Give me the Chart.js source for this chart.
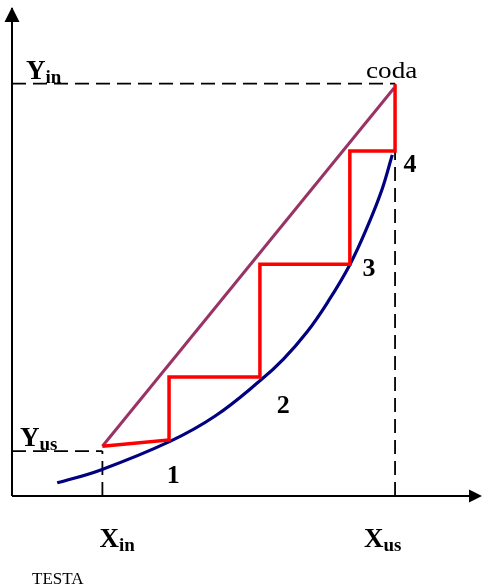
<!DOCTYPE html>
<html lang="it">

<head>
    <meta charset="UTF-8">
    <title>Stadi di equilibrio</title>
    <script src="https://cdn.jsdelivr.net/npm/chart.js"></script>
    <style>
        html, body {
            margin: 0;
            padding: 0;
            background: #ffffff;
        }

        #stagesChart {
            display: block;
        }
    </style>
</head>

<body>
    <canvas id="stagesChart" width="482" height="587"></canvas>

    <script>
        // Feed / product compositions on the two axes
        const feedX = [19.4, 82.2];      // X_in, X_us
        const feedY = [9.2, 84.5];       // Y_us, Y_in

        // Equilibrium curve
        const curveX = [9.7, 18.9, 33.9, 43.6, 53.2, 58.2, 63.3, 67.8, 72.5, 76.4, 79.4, 81.6];
        const curveY = [2.7, 5.3, 11.2, 16.4, 23.6, 28.0, 33.6, 39.8, 47.4, 55.5, 62.8, 69.9];

        // Operating line (testa -> coda)
        const operX = [19.4, 82.0];
        const operY = [10.2, 83.6];

        // Stage staircase
        const stepX = [19.4, 33.7, 33.7, 53.2, 53.2, 72.5, 72.5, 82.2, 82.2];
        const stepY = [10.2, 11.5, 24.4, 24.4, 47.5, 47.5, 70.7, 70.7, 84.4];

        const stageNames = ['1', '2', '3', '4'];
        const axisMax = 100;

        function toPoints(xs, ys) {
            return xs.map((x, i) => ({ x: x, y: ys[i] }));
        }

        function lineSet(data, color, width, extra) {
            return Object.assign({
                data: data,
                showLine: true,
                borderColor: color,
                borderWidth: width,
                pointRadius: 0,
                fill: false,
                clip: false
            }, extra || {});
        }

        const dash = { borderDash: [14, 7] };

        // Arrowheads, axis labels and stage numbers
        const annotations = {
            id: 'annotations',
            afterDatasetsDraw(chart) {
                const ctx = chart.ctx;
                const xs = chart.scales.x;
                const ys = chart.scales.y;
                const x0 = xs.getPixelForValue(0);
                const y0 = ys.getPixelForValue(0);
                const xEnd = xs.getPixelForValue(axisMax);
                const yEnd = ys.getPixelForValue(axisMax);

                ctx.save();
                ctx.fillStyle = '#000';

                // arrow on y axis
                ctx.beginPath();
                ctx.moveTo(x0, yEnd - 1);
                ctx.lineTo(x0 - 7.5, yEnd + 14);
                ctx.lineTo(x0 + 7.5, yEnd + 14);
                ctx.closePath();
                ctx.fill();

                // arrow on x axis
                ctx.beginPath();
                ctx.moveTo(xEnd + 4, y0);
                ctx.lineTo(xEnd - 9, y0 - 6.5);
                ctx.lineTo(xEnd - 9, y0 + 6.5);
                ctx.closePath();
                ctx.fill();

                ctx.textBaseline = 'alphabetic';
                ctx.textAlign = 'left';

                function subLabel(main, sub, left, base) {
                    ctx.font = 'bold 27px "Liberation Serif", "Times New Roman", serif';
                    ctx.fillText(main, left, base);
                    const w = ctx.measureText(main).width;
                    ctx.font = 'bold 19px "Liberation Serif", "Times New Roman", serif';
                    ctx.fillText(sub, left + w, base + 4);
                }

                const xIn = xs.getPixelForValue(feedX[0]);
                const xUs = xs.getPixelForValue(feedX[1]);
                const yUs = ys.getPixelForValue(feedY[0]);
                const yIn = ys.getPixelForValue(feedY[1]);

                subLabel('Y', 'in', x0 + 14, yIn - 5);
                subLabel('Y', 'us', x0 + 8, yUs - 5);
                subLabel('X', 'in', xIn - 3, y0 + 51);
                subLabel('X', 'us', xUs - 31, y0 + 51);

                ctx.font = '23px "Liberation Serif", "Times New Roman", serif';
                ctx.save();
                ctx.translate(xUs - 29, yIn - 6);
                ctx.scale(1.18, 1);
                ctx.fillText('coda', 0, 0);
                ctx.restore();

                ctx.font = '17px "Liberation Serif", "Times New Roman", serif';
                ctx.fillText('TESTA', x0 + 20, y0 + 88);

                // stage numbers next to the equilibrium curve
                const stagePos = [[34.6, 2.7], [58.2, 17.0], [76.6, 45.0], [85.4, 66.4]];
                ctx.font = 'bold 26px "Liberation Serif", "Times New Roman", serif';
                ctx.textAlign = 'center';
                stageNames.forEach((name, i) => {
                    ctx.fillText(name,
                        xs.getPixelForValue(stagePos[i][0]),
                        ys.getPixelForValue(stagePos[i][1]));
                });
                ctx.restore();
            }
        };

        new Chart(document.getElementById('stagesChart'), {
            type: 'scatter',
            data: {
                datasets: [
                    lineSet(toPoints(stepX, stepY), '#ff0000', 3.5, { borderJoinStyle: 'miter' }),
                    lineSet(toPoints(operX, operY), '#993366', 3),
                    lineSet(toPoints(curveX, curveY), '#000080', 3.2, { tension: 0.4 }),
                    // dashed guides
                    lineSet([{ x: 0, y: feedY[1] }, { x: feedX[1], y: feedY[1] }], '#000', 1.8, dash),
                    lineSet([{ x: feedX[1], y: 0 }, { x: feedX[1], y: feedY[1] }], '#000', 1.8, dash),
                    lineSet([{ x: 0, y: feedY[0] }, { x: feedX[0], y: feedY[0] }], '#000', 1.8, dash),
                    lineSet([{ x: feedX[0], y: 0 }, { x: feedX[0], y: feedY[0] }], '#000', 1.8, dash),
                    // axes
                    lineSet([{ x: 0, y: 0 }, { x: axisMax, y: 0 }], '#000', 2),
                    lineSet([{ x: 0, y: 0 }, { x: 0, y: axisMax }], '#000', 2)
                ]
            },
            options: {
                responsive: false,
                animation: false,
                layout: {
                    padding: { left: 12, right: 4, top: 8, bottom: 91 }
                },
                scales: {
                    x: { type: 'linear', min: 0, max: axisMax, display: false },
                    y: { type: 'linear', min: 0, max: axisMax, display: false }
                },
                plugins: {
                    legend: { display: false },
                    tooltip: { enabled: false }
                }
            },
            plugins: [annotations]
        });
    </script>
</body>

</html>
